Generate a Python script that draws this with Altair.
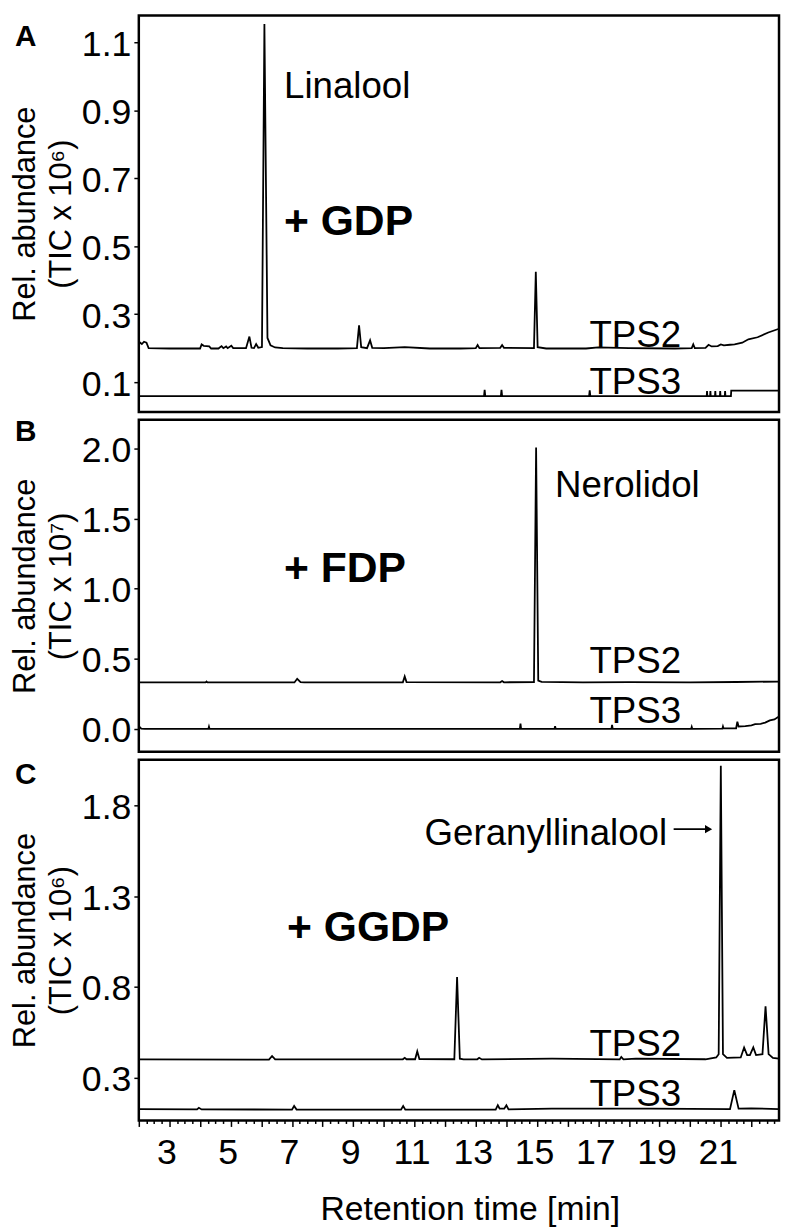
import altair as alt
import pandas as pd

FONT = "Liberation Sans"

# ---------------- Panel A : + GDP (TIC x 10^6) ----------------
a_tps2_t = [2.00, 2.05, 2.10, 2.17, 2.25, 2.32, 3.00, 4.00, 4.05, 4.12, 4.30, 4.36, 4.60, 4.70, 4.76,
            4.85, 4.90, 5.02, 5.08, 5.50, 5.61, 5.68, 5.76, 5.83, 5.90, 6.02, 6.10, 6.20, 6.30, 6.45,
            6.70, 7.50, 8.50, 9.12, 9.19, 9.26, 9.45, 9.55, 9.62, 10.00, 10.68, 11.50, 12.50, 13.00,
            13.06, 13.12, 13.80, 13.86, 13.92, 14.90, 14.96, 15.02, 15.30, 16.60, 17.00, 18.00, 19.50,
            20.05, 20.10, 20.15, 20.50, 20.60, 20.70, 20.90, 21.00, 21.10, 21.30, 21.45, 21.70, 21.90,
            22.20, 22.55, 22.90]
a_tps2_v = [0.212, 0.216, 0.212, 0.219, 0.216, 0.200, 0.199, 0.199, 0.211, 0.207, 0.205, 0.199, 0.199,
            0.206, 0.200, 0.205, 0.200, 0.207, 0.200, 0.200, 0.234, 0.201, 0.200, 0.212, 0.201, 0.203,
            1.154, 0.230, 0.208, 0.202, 0.200, 0.199, 0.199, 0.200, 0.267, 0.203, 0.200, 0.223, 0.201,
            0.200, 0.203, 0.199, 0.199, 0.200, 0.209, 0.200, 0.201, 0.209, 0.201, 0.200, 0.425, 0.203,
            0.199, 0.199, 0.202, 0.200, 0.199, 0.200, 0.211, 0.200, 0.201, 0.210, 0.205, 0.206, 0.211,
            0.208, 0.210, 0.211, 0.216, 0.226, 0.232, 0.246, 0.257]

a_tps3_t = [2.00, 13.27, 13.29, 13.31, 13.82, 13.84, 13.86, 16.70, 16.72, 16.74, 20.54, 20.55, 20.56,
            20.65, 20.66, 20.67, 20.81, 20.82, 20.83, 20.97, 20.98, 20.99, 21.13, 21.14, 21.15, 21.33,
            21.34, 22.90]
a_tps3_v = [0.059, 0.059, 0.077, 0.059, 0.059, 0.077, 0.059, 0.059, 0.076, 0.059, 0.059, 0.074, 0.059,
            0.059, 0.074, 0.059, 0.059, 0.074, 0.059, 0.059, 0.074, 0.059, 0.059, 0.074, 0.059, 0.059,
            0.075, 0.075]

# ---------------- Panel B : + FDP (TIC x 10^7) ----------------
b_tps2_t = [2.00, 4.18, 4.21, 4.24, 7.08, 7.17, 7.28, 7.40, 10.62, 10.68, 10.74, 13.80, 13.86, 13.92,
            14.90, 14.97, 15.04, 15.15, 16.50, 18.00, 20.00, 21.50, 22.90]
b_tps2_v = [0.332, 0.332, 0.338, 0.332, 0.332, 0.358, 0.334, 0.332, 0.333, 0.375, 0.334, 0.333, 0.342,
            0.333, 0.334, 2.007, 0.345, 0.336, 0.333, 0.334, 0.333, 0.335, 0.338]

b_tps3_t = [2.00, 2.08, 2.20, 4.27, 4.29, 4.31, 14.44, 14.46, 14.48, 15.57, 15.59, 15.61, 17.43, 17.45,
            17.47, 20.03, 20.05, 20.07, 21.05, 21.07, 21.09, 21.50, 21.54, 21.58, 21.80, 22.00, 22.12,
            22.30, 22.45, 22.60, 22.75, 22.87, 22.90]
b_tps3_v = [0.021, 0.003, 0.000, 0.000, 0.016, 0.000, 0.000, 0.038, 0.000, 0.000, 0.020, 0.000, 0.000,
            0.030, 0.000, 0.000, 0.015, 0.000, 0.002, 0.018, 0.004, 0.005, 0.052, 0.018, 0.021, 0.026,
            0.034, 0.037, 0.045, 0.061, 0.068, 0.085, 0.088]

# ---------------- Panel C : + GGDP (TIC x 10^6) ----------------
c_tps2_t = [2.00, 6.25, 6.35, 6.45, 10.62, 10.68, 10.74, 11.02, 11.09, 11.16, 12.30, 12.39, 12.48, 12.60,
            13.05, 13.11, 13.20, 15.49, 17.70, 17.75, 17.82, 18.23, 20.50, 20.85, 20.93, 21.00, 21.07,
            21.20, 21.65, 21.76, 21.86, 21.95, 22.06, 22.15, 22.36, 22.46, 22.56, 22.70, 22.90]
c_tps2_v = [0.401, 0.400, 0.420, 0.401, 0.402, 0.410, 0.402, 0.402, 0.445, 0.403, 0.402, 0.855, 0.405,
            0.401, 0.402, 0.410, 0.401, 0.405, 0.401, 0.415, 0.401, 0.406, 0.402, 0.412, 0.430, 2.018,
            0.430, 0.410, 0.412, 0.467, 0.425, 0.425, 0.467, 0.425, 0.430, 0.694, 0.430, 0.410, 0.405]

c_tps3_t = [2.00, 3.90, 3.96, 4.05, 7.00, 7.07, 7.15, 10.56, 10.63, 10.70, 13.65, 13.72, 13.78, 13.93,
            14.00, 14.07, 15.48, 17.15, 18.72, 21.30, 21.44, 21.58, 21.99, 22.90]
c_tps3_v = [0.127, 0.126, 0.135, 0.126, 0.125, 0.145, 0.125, 0.125, 0.145, 0.125, 0.125, 0.149, 0.130,
            0.130, 0.149, 0.126, 0.130, 0.130, 0.130, 0.127, 0.232, 0.130, 0.132, 0.127]

# ---------------- Labels ----------------
a_labels = ["Linalool", "TPS2", "TPS3"]
a_label_t = [6.74, 16.71, 16.71]
a_label_v = [0.935, 0.202, 0.065]
a_sub = ["+ GDP"]; a_sub_t = [6.74]; a_sub_v = [0.532]

b_labels = ["Nerolidol", "TPS2", "TPS3"]
b_label_t = [15.59, 16.71, 16.71]
b_label_v = [1.654, 0.398, 0.045]
b_sub = ["+ FDP"]; b_sub_t = [6.74]; b_sub_v = [1.046]

c_labels = ["Geranyllinalool", "TPS2", "TPS3"]
c_label_t = [11.33, 16.71, 16.71]
c_label_v = [1.582, 0.418, 0.145]
c_sub = ["+ GGDP"]; c_sub_t = [6.84]; c_sub_v = [1.054]
c_arrow_t = [19.46, 20.60]
c_arrow_v = [1.669, 1.669]

a_yticks = [0.1, 0.3, 0.5, 0.7, 0.9, 1.1]
b_yticks = [0.0, 0.5, 1.0, 1.5, 2.0]
c_yticks = [0.3, 0.8, 1.3, 1.8]
x_ticks = [2 + 0.25 * i for i in range(84)]

X_DOMAIN = [2.0, 22.9]
W = 646


def traces(pairs):
    frames = []
    for name, t, v in pairs:
        frames.append(pd.DataFrame({"t": t, "v": v, "i": list(range(len(t))), "s": name}))
    return pd.concat(frames, ignore_index=True)


def panel(pairs, labels, lt, lv, sub, st, sv, ydomain, yvalues, height, letter, letter_y,
          ytitle, show_x=False, arrow=None):
    xs = alt.Scale(domain=X_DOMAIN, nice=False, zero=False)
    ys = alt.Scale(domain=ydomain, nice=False, zero=False)
    if show_x:
        xaxis = alt.Axis(values=x_ticks, title="Retention time [min]",
                         labelExpr="datum.value % 2 === 1 ? format(datum.value, 'd') : ''",
                         tickSize={"condition": {"test": "datum.value % 1 === 0", "value": 6}, "value": 3},
                         labelFontSize=36, titleFontSize=34, labelPadding=9, titlePadding=23,
                         labelOverlap=False, labelFlush=False, labelOffset=-3,
                         titleX=334, titleAlign="center", titleAnchor="middle")
    else:
        xaxis = None
    yaxis = alt.Axis(values=yvalues, format=".1f", title=ytitle, tickSize=5, labelPadding=3,
                     labelFontSize=36, titleFontSize=31, titleLineHeight=36, titlePadding=4,
                     labelOffset=2)

    def X(field):
        return alt.X(field, type="quantitative", scale=xs, axis=xaxis)

    def Y(field):
        return alt.Y(field, type="quantitative", scale=ys, axis=yaxis)

    df = traces(pairs)
    lines = alt.Chart(df).mark_line(color="black", strokeWidth=1.8, clip=True).encode(
        x=X("t"), y=Y("v"), detail="s:N", order="i:Q",
    )
    tdf = pd.DataFrame({"t": lt, "v": lv, "label": labels})
    txt = alt.Chart(tdf).mark_text(font=FONT, fontSize=37, align="left", baseline="alphabetic",
                                   color="black").encode(x=X("t"), y=Y("v"), text="label:N")
    sdf = pd.DataFrame({"t": st, "v": sv, "label": sub})
    stxt = alt.Chart(sdf).mark_text(font=FONT, fontSize=43, fontWeight="bold", align="left",
                                    baseline="alphabetic", color="black").encode(
        x=X("t"), y=Y("v"), text="label:N")
    ldf = pd.DataFrame({"label": [letter]})
    ltxt = alt.Chart(ldf).mark_text(font=FONT, fontSize=30, fontWeight="bold", align="left",
                                    baseline="alphabetic", color="black").encode(
        x=alt.value(-125), y=alt.value(letter_y), text="label:N")
    layers = [lines, txt, stxt, ltxt]
    if arrow is not None:
        at, av = arrow
        adf = pd.DataFrame({"t": [at[0]], "t2": [at[1]], "v": [av[0]]})
        rule = alt.Chart(adf).mark_rule(color="black", strokeWidth=2).encode(
            x=X("t"), x2="t2:Q", y=Y("v"))
        head = alt.Chart(adf).mark_point(shape="triangle-right", filled=True, color="black",
                                         size=70, opacity=1).encode(x=X("t2"), y=Y("v"))
        layers += [rule, head]
    return alt.layer(*layers).properties(width=W, height=height)


pA = panel([("TPS2", a_tps2_t, a_tps2_v), ("TPS3", a_tps3_t, a_tps3_v)],
           a_labels, a_label_t, a_label_v, a_sub, a_sub_t, a_sub_v,
           [0.0124, 1.179], a_yticks, 400, "A", 31, ["Rel. abundance", "(TIC x 10\u2076)"])
pB = panel([("TPS2", b_tps2_t, b_tps2_v), ("TPS3", b_tps3_t, b_tps3_v)],
           b_labels, b_label_t, b_label_v, b_sub, b_sub_t, b_sub_v,
           [-0.163, 2.205], b_yticks, 335, "B", 21, ["Rel. abundance", "(TIC x 10\u2077)"])
pC = panel([("TPS2", c_tps2_t, c_tps2_v), ("TPS3", c_tps3_t, c_tps3_v)],
           c_labels, c_label_t, c_label_v, c_sub, c_sub_t, c_sub_v,
           [0.065, 2.051], c_yticks, 364, "C", 24, ["Rel. abundance", "(TIC x 10\u2076)"],
           show_x=True, arrow=(c_arrow_t, c_arrow_v))

chart = alt.vconcat(pA, pB, pC, spacing=8, bounds="flush").properties(
    padding={"left": 0, "top": 0, "right": 0, "bottom": 0}
).configure_view(stroke="black", strokeWidth=2.5).configure_axis(
    labelFont=FONT, titleFont=FONT, labelColor="black", titleColor="black", tickColor="black",
    tickWidth=1.5, domain=False, grid=False, titleFontWeight="normal"
)

chart.save("out.html", embed_options={"renderer": "svg", "actions": False})
